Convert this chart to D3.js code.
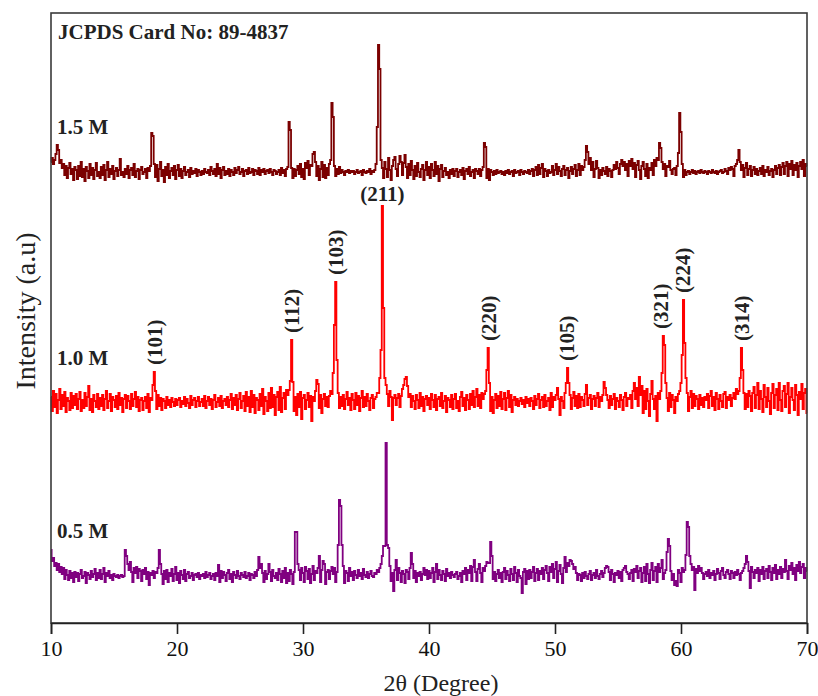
<!DOCTYPE html>
<html>
<head>
<meta charset="utf-8">
<script src="https://cdn.jsdelivr.net/npm/d3@7"></script>
<style>
  body { margin: 0; background: #fff; }
  text { font-family: 'Liberation Serif', 'Times New Roman', serif; }
</style>
</head>
<body>
<svg id="xrd"></svg>
<script>
'use strict';

// 2-theta grid: 10 to 70 degrees, 0.1 degree step
var thetaStart = 10;
var thetaStep = 0.1;

// intensities (a.u.), one row = 2 degrees
var int15 = [
  10, 14, 8, 12, 18, 27, 22, 9, 12, 4, 8, -3, 6, -6, 4, 9, -2, 3, -8, 5,          // 10
  2, -7, 6, -4, 10, -5, 3, -9, 5, 1, -6, 8, -3, 4, -7, 2, 9, -4, 0, -6,           // 12
  5, -3, 7, -8, 2, 10, -5, 3, -2, 6, -7, 1, 4, -4, 2, 13, -3, 0, -5, 3,           // 14
  -2, 6, -6, 2, 4, -3, 8, -5, 1, 3, -7, 2, 5, -2, 0, 3, -6, 4, 1, 6,              // 16
  39, 36, 8, -5, 7, -9, 3, 10, -4, 2, -10, 5, -3, 8, -6, 1, 4, -3, 6, -7,         // 18
  2, 7, -4, 3, -6, 1, 5, -3, 0, 2, -5, 4, -2, 1, -1, 3, -4, 2, 0, -3,             // 20
  1, -2, 3, 0, -1, 2, -3, 5, 1, -2, 3, -4, 8, -2, 4, -6, 2, 5, -3, 1,             // 22
  -2, 3, -4, 2, 0, -3, 4, -1, 2, 5, -2, 0, 3, -4, 1, 2, -2, 4, -1, 0,             // 24
  3, -3, 2, 1, -2, 4, -3, 2, 0, 3, -2, 1, 2, -1, 3, 0, -3, 2, 1, -2,              // 26
  0, 2, -3, 4, -1, 2, -4, 3, 5, 50, 42, 4, -6, 3, -4, 2, 6, -2, 8, -5,            // 28
  3, -7, 9, 4, 11, -3, 7, 6, 18, 20, 10, -4, 6, -8, 3, 10, -5, 7, -6, 4,          // 30
  -3, 8, 12, 69, 55, 6, -4, 3, -2, 5, -1, 2, 0, -3, 1, 0, 2, -1, 1, 0,            // 32
  1, -2, 0, 2, -1, 0, 1, -3, 2, 0, -1, 1, 0, 3, -2, 1, 0, 2, 8, 45,               // 34
  127, 103, 12, 4, -6, 10, 3, -5, 14, 2, -8, 6, 12, 15, 3, -4, 8, 16, 10, -3,     // 36
  9, 17, 5, -6, 8, -3, 11, 2, -7, 6, -4, 9, 0, -5, 3, 7, -8, 2, 10, -3,           // 38
  5, -6, 8, 2, -4, 10, -2, 6, -9, 3, 7, -5, 1, 4, -3, 0, -6, 2, -2, 3,            // 40
  -4, 1, 3, -5, 0, 2, -3, 4, -7, 1, 3, -2, 5, -4, 0, 2, -6, 3, 1, -2,             // 42
  3, -4, 2, 5, 29, 25, -6, 3, -8, 2, 0, -3, 1, -2, 2, -1, 0, 1, -2, 0,            // 44
  -3, 1, -1, 2, -2, 0, 1, -4, 2, -1, 0, 1, -3, 2, 0, -2, 1, 0, -1, 2,             // 46
  -2, 1, 3, -4, 2, 5, -3, 7, -2, 4, 8, -5, 3, 1, -4, 2, -1, 0, 6, -3,             // 48
  2, 8, -2, 5, 1, -4, 3, 6, -3, 2, 4, -6, 1, 5, -2, 3, 7, -4, 2, 8,               // 50
  -3, 6, 2, 5, 12, 26, 20, 8, 14, 2, 10, -5, 3, 11, 4, -6, 2, -3, 4, 1,           // 52
  -2, 5, -4, 3, 1, -5, 2, 7, 3, 10, 4, -2, 8, 12, 6, 10, 2, 8, -4, 11,            // 54
  6, 13, 3, 9, -5, 7, 11, 2, -7, 6, 10, 3, -4, 8, -6, 4, 2, 9, -3, 12,            // 56
  6, 14, 12, 29, 24, 10, 3, 8, -4, 6, 5, 11, 2, -2, 3, 4, -3, 6, 19, 59,          // 58
  40, 8, -5, 2, -3, 0, 1, -2, 0, 2, -1, 1, -2, 0, 1, -1, 2, 0, -1, 1,             // 60
  0, -2, 1, 0, -1, 2, 0, -1, 1, -2, 0, 1, 2, -1, 0, 3, 1, -2, 4, 2,               // 62
  5, 3, -4, 6, 8, 12, 22, 10, 2, 7, -5, 4, 9, -3, 3, 6, -4, 2, 5, -2,             // 64
  3, -3, 1, 4, -2, 6, -4, 2, 0, 5, -3, 1, 3, -5, 2, 6, -2, 4, 7, -3,              // 66
  5, 9, -2, 6, 10, -4, 8, 3, 11, -3, 7, 2, 9, -5, 6, 10, 3, 12, -4, 8,            // 68
  6                                                                               // 70
];

var int10 = [
  6, -8, 12, -4, 9, -10, 3, 14, -6, 8, -3, 11, -9, 5, 2, -7, 10, -5, 7, -2,       // 10
  9, -6, 4, 11, -8, 3, -5, 10, -3, 6, 17, -7, 4, -9, 8, 2, -4, 9, -6, 5,          // 12
  -3, 8, -7, 4, 12, -5, 2, 9, -8, 6, 3, -4, 7, -6, 10, -2, 5, -9, 4, 8,           // 14
  -5, 7, 2, -6, 9, -3, 4, 11, -4, 6, -8, 3, 5, -7, 2, 6, -5, 9, -9, 5,            // 16
  3, 18, 31, 12, -6, 8, -3, 5, -7, 4, 2, -5, 6, -2, 3, -4, 5, 1, -3, 4,           // 18
  -2, 3, 5, -4, 2, -1, 6, -3, 4, 0, -5, 7, -2, 3, 5, -4, 2, 6, -3, 1,             // 20
  4, -3, 7, -5, 2, 6, -2, 4, -6, 3, 8, -4, 1, 5, -3, 7, -5, 2, 4, -2,             // 22
  6, -4, 3, 9, -6, 5, -2, 8, -7, 4, 10, -5, 2, 7, -8, 11, -3, 6, -9, 12,          // 24
  -4, 8, -10, 5, 3, -7, 9, -3, 14, -11, 6, 2, -8, 10, -5, 15, -4, 8, -12, 6,      // 26
  11, -7, 16, -9, 5, 10, -6, 13, 8, 13, 22, 63, 21, -8, 6, -12, 9, -4, 11, -16,   // 28
  5, 8, -6, 3, 10, -4, 7, -18, 6, 2, 12, 23, 19, -5, 8, -10, 4, 9, -3, 6,         // 30
  -4, 7, 12, 9, 30, 78, 121, 43, 10, -5, 6, -3, 8, -6, 4, 11, -2, 5, -7, 9,       // 32
  3, -6, 10, -2, 7, -8, 5, 12, -4, 6, -3, 9, 2, -7, 5, 8, -5, 4, 6, 10,           // 34
  10, 25, 53, 197, 95, 25, 18, 9, -3, 12, 6, -17, 5, 8, -2, 5, 9, -4, 7, 14,      // 36
  18, 24, 26, 17, 6, 9, -4, 7, 2, -6, 8, 3, -5, 10, -3, 6, -8, 4, 7, -2,          // 38
  5, -6, 9, 3, -4, 8, -7, 4, 6, -3, 10, -5, 2, 7, -9, 5, 3, -4, 8, -6,            // 40
  4, 9, -5, 2, -8, 6, 11, -3, 5, -7, 8, 3, -6, 9, -2, 12, -4, 6, 14, -3,          // 42
  8, -5, 10, 4, 9, 12, 33, 55, 20, -8, 6, -10, 3, 9, -5, 7, -3, 11, -6, 4,        // 44
  10, -7, 5, 12, -4, 8, -9, 3, 6, -2, 4, -3, 2, 5, -1, 3, -4, 6, 0, 4,            // 46
  -3, 5, 2, -6, 7, -2, 4, 9, -5, 3, 6, -4, 8, -3, 2, 5, -7, 10, -4, 6,            // 48
  3, 8, 15, 4, -12, 6, 2, -5, 10, 20, 35, 20, 8, -6, 5, 11, -3, 7, -5, 9,         // 50
  -4, 6, 3, -3, 9, 18, -2, 5, 8, -6, 4, 7, -3, 5, 10, -4, 6, 2, 8, 21,            // 52
  15, 8, 3, -5, 7, -2, 4, 9, -6, 5, 2, -4, 8, 3, -7, 6, 10, -3, 5, 4,             // 54
  8, -5, 12, 20, 4, 15, -3, 26, 8, 17, -10, 12, -6, 14, 2, -13, 9, 22, 4, -6,     // 56
  7, -18, 10, 4, 12, 30, 67, 58, 20, 5, -8, 10, -4, 8, 3, -10, 6, 2, 9, 12,       // 58
  20, 48, 103, 60, 25, 10, -8, 6, 12, -5, 9, -3, 7, 4, -6, 8, -2, 5, -4, 6,       // 60
  3, 9, -5, 7, 12, -3, 6, -7, 10, 4, -6, 8, 2, -4, 9, 11, -5, 6, 3, 8,            // 62
  -3, 5, 10, 4, 14, 9, 12, 25, 55, 33, 10, -6, 9, -4, 12, 7, -8, 10, 16, -5,      // 64
  8, 20, -6, 12, 4, -9, 18, 6, -4, 15, 2, -11, 10, 19, -5, 8, 14, -7, 20, 3,      // 66
  -8, 12, 17, -4, 9, 20, -10, 6, 15, 3, -7, 18, 8, -12, 11, 4, 19, -6, 10, 14,    // 68
  -10                                                                             // 70
];

var int05 = [
  26, 15, 18, 10, 13, 6, 12, 4, 9, 2, 8, -3, 6, 1, -4, 5, -2, 3, -6, 4,           // 10
  -1, 3, -5, 2, 6, -2, 0, 4, -7, 3, 1, -3, 5, -1, 2, 7, -4, 3, -2, 6,             // 12
  -3, 2, 8, -6, 3, 0, 5, -2, 1, -4, 2, 0, -1, 1, -2, 0, 1, -1, 0, 26,             // 14
  20, 12, 6, 14, 4, -6, 8, 3, 9, -2, 7, 5, -5, 6, 2, 8, -3, 4, -9, 3,             // 16
  1, 5, -2, 4, 3, 8, 26, 12, 2, -8, 5, -3, 6, -6, 3, 0, 7, -5, 2, 9,              // 18
  -4, 3, -7, 5, 1, -3, 6, -5, 2, 4, -2, 0, 3, -4, 1, 2, -1, 3, -3, 1,             // 20
  0, 2, -2, 4, -1, 1, 3, -3, 0, 2, -4, 3, 0, 11, -6, 5, -2, 4, 1, -5,             // 22
  3, 6, -3, 2, -6, 4, 1, -2, 5, 0, -3, 3, 1, -1, 4, -2, 0, 3, -4, 2,              // 24
  1, -2, 4, 0, 6, 19, 8, 12, 3, -6, 5, -3, 2, 12, 4, -5, 6, 0, -2, 3,             // 26
  -4, 7, 2, -6, 5, -2, 8, -7, 3, -5, 6, 2, -8, 4, 44, 44, 12, 6, -4, 8,           // 28
  3, -6, 9, 5, -3, 7, -7, 2, 10, -4, 5, 3, 8, 20, -6, 6, 15, 12, -8, 4,           // 30
  6, -3, 5, 9, 2, 8, -6, 4, 31, 76, 70, 31, 10, -7, 5, 3, -5, 8, 0, 4,            // 32
  -4, 5, 1, -2, 6, 0, 3, -3, 7, 1, -1, 4, -2, 2, 5, 0, -1, 3, 2, 6,               // 34
  4, 8, 12, 20, 30, 30, 133, 31, 28, 10, -5, 3, -15, 6, 16, -4, 8, 3, -6, 5,      // 36
  2, -7, 6, 4, -3, 8, 23, 12, -2, 5, -6, 3, 0, 4, -4, 2, 8, 1, 6, -3,             // 38
  5, -2, 3, 8, -6, 4, 12, -3, 6, 1, -4, 5, 2, -5, 7, 0, 3, -2, 4, 1,              // 40
  -1, 2, 4, -3, 0, 3, -6, 5, 2, 8, -4, 6, 3, 10, -5, 9, 16, 4, -5, 7,             // 42
  12, 3, -6, 8, 5, 10, 14, 13, 13, 34, 20, -3, 4, -5, 2, 6, -2, 3, -6, 4,         // 44
  8, -3, 5, 1, -5, 7, 2, -4, 9, 3, -6, 6, 0, -2, -17, 4, 7, -8, 5, -3,            // 46
  6, -2, 4, 9, -5, 3, 7, -4, 5, 2, 8, -3, 6, 10, 3, -5, 9, 4, 12, -2,             // 48
  7, 14, -6, 5, 11, 2, -7, 8, 19, 4, 13, 10, 16, 15, 12, 7, 9, 3, -4, 2,          // 50
  1, -5, 3, -2, 4, 0, -3, 2, 5, -4, 1, 3, -2, 6, 0, -3, 2, 5, -1, 3,              // 52
  8, 10, 9, 4, -4, 6, 2, -6, 3, 1, 5, -2, 4, -5, 6, 8, 10, 4, 2, -3,              // 54
  3, 6, -5, 7, 4, 10, -2, 5, 8, -6, 3, 9, -5, 12, 2, -7, 6, 13, -4, 5,            // 56
  9, -6, 12, 4, 8, 16, -3, 3, 6, 24, 37, 30, 5, -4, 2, -9, -5, -10, 6, 3,         // 58
  -6, 8, 4, 6, 21, 54, 49, 20, 12, 6, 9, -14, 7, 3, 10, 5, 8, 3, -3, 2,           // 60
  4, 0, 6, -2, 3, 1, 5, -4, 2, 7, 3, -3, 5, 8, 1, -2, 4, 6, 2, -3,                // 62
  5, 3, -2, 4, 1, 6, 2, -4, 3, 5, 8, 12, 20, 14, 5, -12, 9, 4, -2, 6,             // 64
  3, 8, -5, 6, 2, 9, -3, 5, 7, -2, 10, 4, -4, 8, 3, 11, -3, 6, 2, 9,              // 66
  -2, 7, 4, 16, 5, -3, 10, 6, 13, 2, 8, -4, 11, 5, 14, 3, 9, 12, -2, 8,           // 68
  5                                                                               // 70
];

var seriesNames = ['0.5 M', '1.0 M', '1.5 M'];
var seriesColors = ['#800080', '#ff0000', '#7b0000'];
var seriesOffsets = [47, 220, 451];   // vertical stacking shift
var seriesData = [int05, int10, int15];

// hkl reflections marked on the 1.0 M pattern
var peakHkl = ['(101)', '(112)', '(103)', '(211)', '(220)', '(105)', '(321)', '(224)', '(314)'];
var peakTheta = [18.2, 29.1, 32.6, 36.3, 44.7, 50.9, 58.4, 60.1, 64.8];

var xTicks = [10, 20, 30, 40, 50, 60, 70];
var cardText = 'JCPDS Card No: 89-4837';

seriesData.forEach(function(s, i) {
  if (s.length !== 601) {
    throw new Error('series ' + seriesNames[i] + ' has ' + s.length + ' points');
  }
});

var width = 818;
var height = 696;
var margin = { top: 13, right: 11, bottom: 73, left: 51 };

var svg = d3.select('#xrd')
  .attr('width', width)
  .attr('height', height);

var x = d3.scaleLinear()
  .domain([10, 70])
  .range([margin.left, width - margin.right]);

var y = d3.scaleLinear()
  .domain([0, 610])
  .range([height - margin.bottom, margin.top]);

function thetaAt(i) {
  return thetaStart + i * thetaStep;
}

var line = d3.line()
  .curve(d3.curveStep)
  .x(function(d, i) { return x(thetaAt(i)); })
  .y(function(d) { return y(d); });

// patterns
seriesData.forEach(function(s, k) {
  var shifted = s.map(function(v) { return v + seriesOffsets[k]; });

  svg.append('path')
    .datum(shifted)
    .attr('fill', 'none')
    .attr('stroke', seriesColors[k])
    .attr('stroke-width', 1.8)
    .attr('stroke-linejoin', 'miter')
    .attr('d', line);

  svg.append('text')
    .attr('x', 57)
    .attr('y', y(seriesOffsets[k] + 38))
    .attr('font-size', 21)
    .attr('font-weight', 'bold')
    .attr('fill', '#222')
    .text(seriesNames[k]);
});

// hkl labels, placed just above the local maximum of the 1.0 M pattern
function peakTop(theta) {
  var c = Math.round((theta - thetaStart) / thetaStep);
  var vals = int10.slice(Math.max(0, c - 3), c + 4);
  return d3.max(vals) + seriesOffsets[1];
}

peakHkl.forEach(function(label, i) {
  var px = x(peakTheta[i]);
  var py = y(peakTop(peakTheta[i]));

  if (label === '(211)') {
    svg.append('text')
      .attr('x', px)
      .attr('y', py - 5)
      .attr('text-anchor', 'middle')
      .attr('font-size', 21)
      .attr('font-weight', 'bold')
      .attr('fill', '#222')
      .text(label);
  } else {
    svg.append('text')
      .attr('transform', 'translate(' + px + ',' + (py - 7) + ') rotate(-90)')
      .attr('dy', '0.35em')
      .attr('font-size', 21)
      .attr('font-weight', 'bold')
      .attr('fill', '#222')
      .text(label);
  }
});

svg.append('text')
  .attr('x', 58)
  .attr('y', 39)
  .attr('font-size', 21)
  .attr('font-weight', 'bold')
  .attr('fill', '#222')
  .text(cardText);

// frame
svg.append('rect')
  .attr('x', margin.left)
  .attr('y', margin.top)
  .attr('width', width - margin.left - margin.right)
  .attr('height', height - margin.top - margin.bottom)
  .attr('fill', 'none')
  .attr('stroke', '#3a3a3a')
  .attr('stroke-width', 1.6);

var xAxis = svg.append('g')
  .attr('transform', 'translate(0,' + (height - margin.bottom) + ')')
  .call(d3.axisBottom(x).tickValues(xTicks).tickSize(11).tickPadding(6).tickFormat(d3.format('d')));

xAxis.select('.domain').attr('stroke', '#222').attr('stroke-width', 1.6);
xAxis.selectAll('.tick line').attr('stroke', '#222').attr('stroke-width', 1.6);
xAxis.selectAll('.tick text')
  .attr('font-family', "'Liberation Serif', 'Times New Roman', serif")
  .attr('font-size', 22)
  .attr('fill', '#111');

svg.append('text')
  .attr('x', 441)
  .attr('y', 691)
  .attr('text-anchor', 'middle')
  .attr('font-size', 24)
  .attr('fill', '#222')
  .text('2θ (Degree)');

svg.append('text')
  .attr('transform', 'translate(35,311) rotate(-90)')
  .attr('text-anchor', 'middle')
  .attr('font-size', 28)
  .attr('fill', '#222')
  .text('Intensity (a.u)');
</script>
</body>
</html>
